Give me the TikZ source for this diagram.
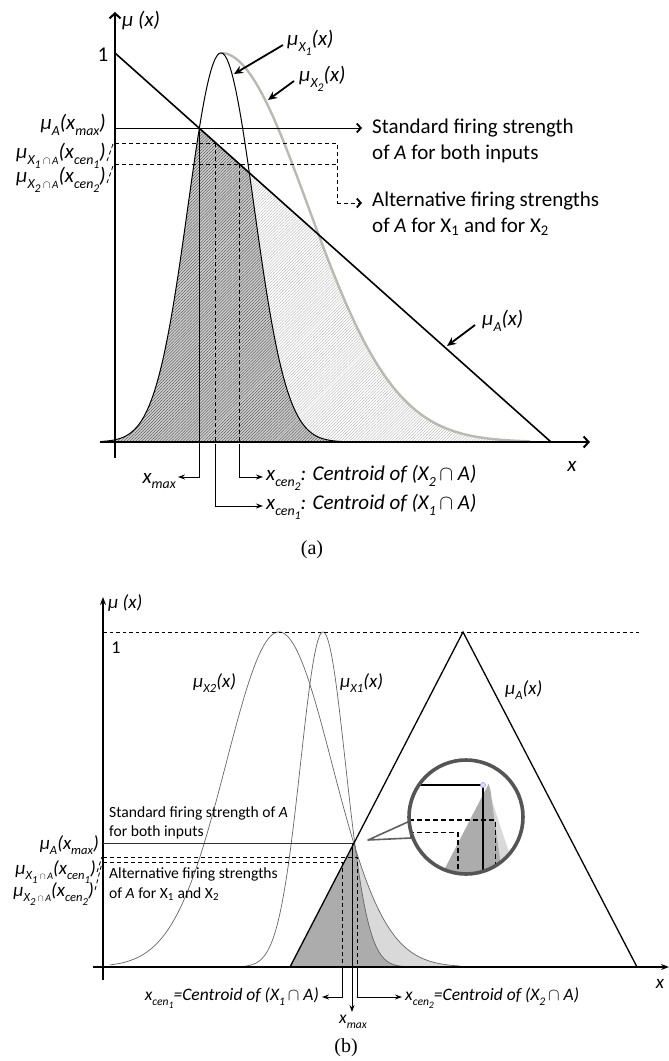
\documentclass[tikz,border=0pt]{standalone}
\usepackage{fontspec}
\usepackage{graphicx}
\setmainfont{Carlito}
\newfontfamily\capfont{Liberation Serif}
\usetikzlibrary{arrows.meta,patterns.meta}
\newcommand\dn[1]{\raisebox{-0.28em}{\scalebox{0.66}{#1}}}
\newcommand\ddn[1]{\raisebox{-0.3em}{\scalebox{0.85}{#1}}}
\newcommand\ca{\scalebox{0.8}{$\cap$\,A}}
\definecolor{xtwo}{RGB}{185,185,178}
\definecolor{ringc}{RGB}{85,85,85}
\begin{document}
\begin{tikzpicture}[x=1pt,y=-1pt,
  axA/.style={line width=2.4pt,-{Straight Barb[length=5pt,width=11pt,line width=2pt]}},
  axB/.style={line width=2pt,-{Stealth[length=8pt,width=6pt]}},
  chev/.style={line width=1pt,-{Straight Barb[length=4pt,width=9pt,line width=1.8pt]}},
  con/.style={line width=1pt,-{Stealth[length=7pt,width=5pt]}},
  lab/.style={line width=1.8pt,-{Stealth[length=9pt,width=8pt]}},
  dsh/.style={line width=0.9pt,dash pattern=on 4pt off 3pt},
  lblA/.style={font=\fontsize{21}{25}\selectfont\itshape,inner sep=0},
  txtA/.style={font=\fontsize{21}{26}\selectfont,inner sep=0,align=left},
  lblB/.style={font=\fontsize{19}{22}\selectfont\itshape,inner sep=0},
  lblBs/.style={font=\fontsize{17.5}{21}\selectfont\itshape,inner sep=0},
  txtB/.style={font=\fontsize{15.6}{19.5}\selectfont,inner sep=0,align=left},
  capt/.style={font=\fontsize{20}{24}\selectfont\capfont,inner sep=0},
  hatchL/.style={pattern={Lines[angle=45,distance=2.1pt,line width=0.35pt]},pattern color=gray!65},
  hatchD/.style={pattern={Lines[angle=45,distance=2.1pt,line width=0.35pt]},pattern color=gray!50!black}
]
\useasboundingbox (0,0) rectangle (669,1061);

%%%%%%%%%%%%%%%%%%%% (a)
% light hatched region: min(X2, A)
\fill[hatchL] (100,442) -- plot[domain=100:551,samples=220]
  (\x,{442-389*min(ifthenelse(\x<221,exp(-0.5*((\x-221)/33)^2),exp(-0.5*((\x-221)/87)^2)),(551-\x)/436)})
  -- (551,442) -- cycle;
% dark region: min(X1, A)
\fill[gray!38] (100,442) -- plot[domain=100:345,samples=180]
  (\x,{442-389*min(exp(-0.5*((\x-221)/33)^2),(551-\x)/436)}) -- (345,442) -- cycle;
\fill[hatchD] (100,442) -- plot[domain=100:345,samples=180]
  (\x,{442-389*min(exp(-0.5*((\x-221)/33)^2),(551-\x)/436)}) -- (345,442) -- cycle;
% curves
\draw[line width=2.4pt,xtwo] plot[domain=221:530,samples=140] (\x,{442-389*exp(-0.5*((\x-221)/87)^2)});
\draw[line width=1pt] plot[domain=100:345,samples=180] (\x,{442-389*exp(-0.5*((\x-221)/33)^2)});
% A line
\coordinate (aTop) at (115,53);
\coordinate (aBot) at (551,442);
\draw[line width=1.6pt] (aTop) -- (aBot);
% axes
\coordinate (ayB) at (115,458); \coordinate (ayT) at (115,12);
\coordinate (axL) at (100,442); \coordinate (axR) at (590,442);
\draw[axA] (ayB) -- (ayT);
\draw[axA] (axL) -- (axR);
\node[lblA,anchor=west] (amu) at (122,21) {μ (x)};
\node[font=\fontsize{21}{25}\selectfont,inner sep=0] (aone) at (103,55) {1};
\node[lblA] (ax) at (572,466) {x};
% firing strength lines
\coordinate (am0) at (115,128); \coordinate (am1) at (362,128);
\draw[chev] (am0) -- (am1);
\node[txtA,anchor=west] (astd) at (372,141) {Standard firing strength\\of \textit{A} for both inputs};
\coordinate (ad1a) at (115,143); \coordinate (ad1b) at (337,143);
\coordinate (ad2a) at (115,164); \coordinate (ad2b) at (337,164);
\coordinate (ad3) at (337,203); \coordinate (ad4) at (362,203);
\draw[dsh] (ad1a) -- (ad1b) -- (ad3);
\draw[dsh] (ad2a) -- (ad2b);
\draw[dsh,-{Straight Barb[length=4pt,width=9pt,line width=1.8pt]}] (ad3) -- (ad4);
\node[txtA,anchor=west] (aalt) at (372,214) {Alternative firing strengths\\of \textit{A} for X\textsubscript{1} and for X\textsubscript{2}};
% left labels
\node[lblA,anchor=east] (lmax) at (106,125) {μ\dn{A}(x\dn{max})};
\node[lblA,anchor=east] (lc1) at (106,156) {μ\dn{X\ddn{1}\,\ca}(x\dn{cen\ddn{1}})};
\node[lblA,anchor=east] (lc2) at (106,180) {μ\dn{X\ddn{2}\,\ca}(x\dn{cen\ddn{2}})};
\draw[dsh,line width=0.8pt] (107,161) -- (113,144);
\draw[dsh,line width=0.8pt] (107,183) -- (113,166);
% verticals
\coordinate (vx0) at (199,128); \coordinate (vx1) at (199,477); \coordinate (vx2) at (178,477);
\draw[con] (vx0) -- (vx1) -- (vx2);
\draw[dsh] (215,143) -- (215,442);
\draw[dsh] (239,164) -- (239,442);
\coordinate (vc1a) at (215,444); \coordinate (vc1b) at (215,506); \coordinate (vc1c) at (263,506);
\coordinate (vc2a) at (239,444); \coordinate (vc2b) at (239,477); \coordinate (vc2c) at (263,477);
\draw[con] (vc1a) -- (vc1b) -- (vc1c);
\draw[con] (vc2a) -- (vc2b) -- (vc2c);
\node[lblA,anchor=east] (axmax) at (176,481) {x\dn{max}};
\node[lblA,anchor=west] (acen2) at (266,478) {x\dn{cen\ddn{2}}: Centroid of (X\dn{2}\,$\cap$ A)};
\node[lblA,anchor=west] (acen1) at (266,507) {x\dn{cen\ddn{1}}: Centroid of (X\dn{1}\,$\cap$ A)};
% curve labels
\node[lblA,anchor=west] (lx1) at (287,43) {μ\dn{X\ddn{1}}(x)};
\node[lblA,anchor=west] (lx2) at (299,79) {μ\dn{X\ddn{2}}(x)};
\node[lblA,anchor=west] (lA) at (482,321) {μ\dn{A}(x)};
\draw[lab] (lx1.west) ++(-4,2) -- (234,74);
\draw[lab] (lx2.west) ++(-5,2) -- (268,100);
\draw[lab] (lA.west) ++(-7,4) -- (447,346);
\node[capt] (capa) at (312,550) {(a)};

%%%%%%%%%%%%%%%%%%%% (b)
% light region min(X2,A)
\fill[gray!30] (290,967) -- plot[domain=290:460,samples=150]
  (\x,{967-335*min(exp(-0.5*((\x-279)/53)^2),(\x-290)/173)}) -- (460,967) -- cycle;
% dark region min(X1,A)
\fill[gray!65] (290,967) -- plot[domain=290:400,samples=150]
  (\x,{967-335*min(exp(-0.5*((\x-323)/22.5)^2),(\x-290)/173)}) -- (400,967) -- cycle;
% curves
\draw[line width=0.7pt,gray!80!black] plot[domain=110:460,samples=200] (\x,{967-335*exp(-0.5*((\x-279)/53)^2)});
\draw[line width=0.7pt,gray!80!black] plot[domain=240:405,samples=160] (\x,{967-335*exp(-0.5*((\x-323)/22.5)^2)});
% triangle A
\coordinate (tL) at (290,967); \coordinate (tT) at (463,632); \coordinate (tR) at (637,967);
\draw[line width=1.3pt] (tL) -- (tT) -- (tR);
% axes
\coordinate (byB) at (103,980); \coordinate (byT) at (103,597);
\coordinate (bxL) at (93,967); \coordinate (bxR) at (669,967);
\draw[axB] (byB) -- (byT);
\draw[axB] (bxL) -- (bxR);
\draw[line width=0.7pt,dash pattern=on 3.5pt off 3pt] (103,632) -- (639,632);
\node[lblB,anchor=west] (bmu) at (108,603) {μ (x)};
\node[font=\fontsize{18}{22}\selectfont,inner sep=0] (bone) at (116,648) {1};
\node[lblB] (bx) at (660,984) {x};
\node[lblB,anchor=west] (bl2) at (193,683) {μ\dn{X2}(x)};
\node[lblB,anchor=west] (bl1) at (340,683) {μ\dn{X1}(x)};
\node[lblB,anchor=west] (blA) at (505,690) {μ\dn{A}(x)};
% firing lines
\coordinate (bI) at (352,843);
\draw[line width=1pt,gray!40!black] (103,843) -- (bI);
\draw[dsh,line width=0.8pt] (103,857) -- (357,857) -- (357,967);
\draw[dsh,line width=0.8pt] (103,862) -- (342,862) -- (342,967);
\node[txtB,anchor=west] (bstd) at (109,823) {Standard firing strength of \textit{A}\\for both inputs};
\node[txtB,anchor=west] (balt) at (109,884) {Alternative firing strengths\\of \textit{A} for X\textsubscript{1} and X\textsubscript{2}};
\node[lblB,anchor=east] (bmax) at (99,845) {μ\dn{A}(x\dn{max})};
\node[lblB,anchor=east] (bc1) at (96,872) {μ\dn{X\ddn{1}\,\ca}(x\dn{cen\ddn{1}})};
\node[lblB,anchor=east] (bc2) at (94,894) {μ\dn{X\ddn{2}\,\ca}(x\dn{cen\ddn{2}})};
\draw[dsh,line width=0.8pt] (97,872) -- (102,857);
\draw[dsh,line width=0.8pt] (95,890) -- (102,863);
% verticals and labels below
\coordinate (bv1) at (352,1012);
\draw[con] (bI) -- (bv1);
\draw[con] (342,968) -- (342,997) -- (322,997);
\draw[con] (357,968) -- (357,997) -- (402,997);
\node[lblBs,anchor=east] (bcen1) at (319,998) {x\dn{cen\ddn{1}}=Centroid of (X\dn{1}\,$\cap$ A)};
\node[lblBs,anchor=west] (bcen2) at (405,998) {x\dn{cen\ddn{2}}=Centroid of (X\dn{2}\,$\cap$ A)};
\node[lblBs] (bxmax) at (353,1022) {x\dn{max}};
% magnifier
\coordinate (mc) at (466,817);
\coordinate (pt1) at (368,840); \coordinate (pt2) at (410,821); \coordinate (pt3) at (411,838);
\filldraw[fill=white,draw=gray!75!black,line width=1.6pt,line join=round] (pt1) -- (pt2) -- (pt3) -- cycle;
\begin{scope}
  \clip (mc) circle[radius=57];
  \fill[white] (mc) circle[radius=57];
  \begin{scope}[shift={(-397,-1322.5)},scale=2.5]
    \fill[gray!30] (290,967) -- plot[domain=290:460,samples=150]
      (\x,{967-335*min(exp(-0.5*((\x-279)/53)^2),(\x-290)/173)}) -- (460,967) -- cycle;
    \fill[gray!65] (290,967) -- plot[domain=290:400,samples=150]
      (\x,{967-335*min(exp(-0.5*((\x-323)/22.5)^2),(\x-290)/173)}) -- (400,967) -- cycle;
    \draw[line width=1.8pt] (300,843) -- (352,843) -- (352,900);
    \draw[line width=1.8pt,dash pattern=on 5pt off 3pt] (300,857) -- (357,857) -- (357,900);
    \draw[line width=1.8pt,dash pattern=on 5pt off 3pt] (300,862) -- (342,862) -- (342,900);
    \filldraw[fill=blue!12,draw=blue!40,line width=0.6pt] (352,843) circle[radius=1];
  \end{scope}
\end{scope}
\draw[ringc,line width=3.6pt] (mc) circle[radius=57];
\node[capt] (capb) at (346,1048) {(b)};
\end{tikzpicture}
\end{document}
